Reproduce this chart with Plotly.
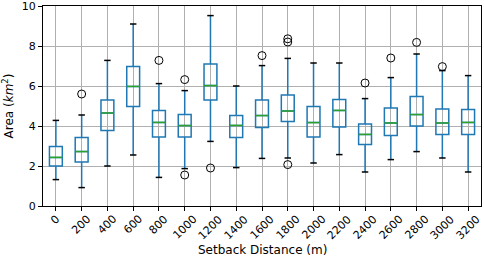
import plotly.graph_objects as go

categories = ["0", "200", "400", "600", "800", "1000", "1200", "1400", "1600",
              "1800", "2000", "2200", "2400", "2600", "2800", "3000", "3200"]
lower_whisker = [1.32, 0.92, 2.00, 2.55, 1.43, 1.87, 3.23, 1.92, 2.38,
                 2.40, 2.15, 2.57, 1.70, 2.32, 2.72, 2.40, 1.70]
q1_vals = [2.00, 2.20, 3.77, 4.98, 3.45, 3.45, 5.30, 3.42, 3.92,
           4.23, 3.45, 3.95, 3.08, 3.52, 4.00, 3.57, 3.57]
median_vals = [2.43, 2.72, 4.65, 5.98, 4.18, 4.02, 6.02, 4.03, 4.52,
               4.75, 4.17, 4.78, 3.58, 4.15, 4.57, 4.15, 4.18]
q3_vals = [2.98, 3.42, 5.30, 6.97, 4.78, 4.58, 7.10, 4.52, 5.30,
           5.55, 4.97, 5.33, 4.10, 4.90, 5.48, 4.85, 4.82]
upper_whisker = [4.28, 4.55, 7.28, 9.10, 6.12, 5.77, 9.52, 6.00, 7.02,
                 7.38, 7.15, 7.15, 5.37, 6.42, 7.60, 6.77, 6.52]
outlier_cat = ["200", "800", "1000", "1000", "1200", "1600",
               "1800", "1800", "1800", "2400", "2600", "2800", "3000"]
outlier_vals = [5.60, 7.28, 6.32, 1.55, 1.90, 7.52,
                8.36, 8.20, 2.07, 6.15, 7.40, 8.18, 6.97]
x_title = "Setback Distance (m)"
y_title = "Area (<i>km</i><sup>2</sup>)"

idx = list(range(len(categories)))
pos = {c: i for i, c in enumerate(categories)}

FONT = "DejaVu Sans"
FS = 12
TFS = 11
fig = go.Figure()
fig.add_trace(go.Box(
    x=idx, q1=q1_vals, median=median_vals, q3=q3_vals,
    lowerfence=lower_whisker, upperfence=upper_whisker,
    width=0.5, whiskerwidth=0, boxpoints=False,
    line=dict(color="#1f77b4", width=1.5), fillcolor="rgba(0,0,0,0)",
    hoverinfo="skip", showlegend=False,
))
fig.add_trace(go.Scatter(
    x=[pos[c] for c in outlier_cat], y=outlier_vals, mode="markers",
    marker=dict(symbol="circle-open", size=8, color="black", line=dict(width=1)),
    hoverinfo="skip", showlegend=False,
))

shapes = []
for i in idx:
    shapes.append(dict(type="line", xref="x", yref="y", x0=i - 0.25, x1=i + 0.25,
                       y0=median_vals[i], y1=median_vals[i],
                       line=dict(color="#2ca02c", width=1.5)))
    for v in (lower_whisker[i], upper_whisker[i]):
        shapes.append(dict(type="line", xref="x", yref="y", x0=i - 0.125, x1=i + 0.125,
                           y0=v, y1=v, line=dict(color="black", width=1.5)))

annotations = []
for i, c in enumerate(categories):
    annotations.append(dict(x=i, y=0, xref="x", yref="paper", text=c, showarrow=False,
                            textangle=-45, xanchor="center", yanchor="top", yshift=-4,
                            font=dict(family=FONT, size=TFS, color="black")))
annotations.append(dict(x=0.5, y=-0.22, xref="paper", yref="paper", text=x_title,
                        showarrow=False, xanchor="center", yanchor="middle",
                        font=dict(family=FONT, size=FS, color="black")))

fig.update_layout(
    width=484, height=262,
    margin=dict(l=43, r=3, t=6, b=56),
    paper_bgcolor="white", plot_bgcolor="white",
    font=dict(family=FONT, size=FS, color="black"),
    shapes=shapes, annotations=annotations,
    showlegend=False,
)
fig.update_xaxes(
    range=[-0.5, len(categories) - 0.5],
    tickmode="array", tickvals=idx, showticklabels=False,
    showgrid=True, gridcolor="#b0b0b0", gridwidth=0.8,
    showline=True, mirror=True, linecolor="black", linewidth=1,
    ticks="outside", ticklen=4, tickcolor="black",
    zeroline=False, automargin=False,
)
fig.update_yaxes(
    range=[0, 10], tickvals=[0, 2, 4, 6, 8, 10], ticklabeloverflow="allow",
    tickfont=dict(size=TFS),
    showgrid=True, gridcolor="#b0b0b0", gridwidth=0.8,
    showline=True, mirror=True, linecolor="black", linewidth=1,
    ticks="outside", ticklen=4, tickcolor="black",
    title=dict(text=y_title, standoff=6, font=dict(size=FS)),
    zeroline=False, automargin=False,
)
fig.write_html("out.html", config={"displayModeBar": False},
               post_script="document.body.style.margin='0';document.body.style.overflow='hidden';")
